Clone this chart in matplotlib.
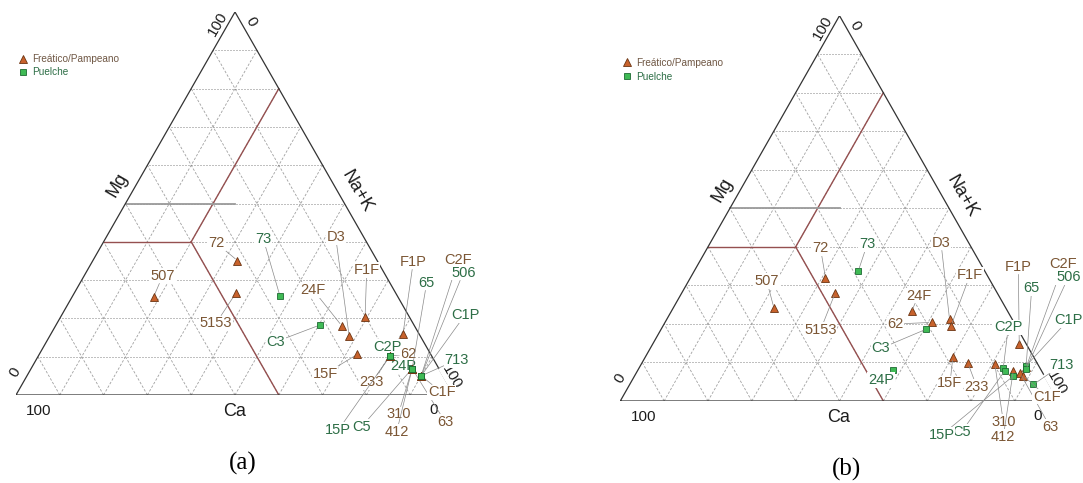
import numpy as np
import matplotlib
matplotlib.use("Agg")
import matplotlib.pyplot as plt

plt.rcParams['font.family'] = ['Liberation Sans', 'DejaVu Sans']

FIG_W, FIG_H, DPI = 1083, 483, 100

# ---------------- cation data (% of meq): Ca, Mg, Na+K ----------------
# panel (a)
a_names = ['72', '5153', '507', '24F', 'D3', 'F1F', '15F', 'F1P', '62', '233',
           '310', '412', '63', 'C1F', 'C2F',
           '73', 'C3', 'C2P', '24P', '65', '15P', 'C5', '713', 'C1P', '506']
a_group = ['F'] * 15 + ['P'] * 10
a_ca = [31.9, 36.5, 55.7, 16.6, 16.2, 10.1, 16.8, 3.7, 9.5, 9.5,
        6.1, 6.1, 6.1, 5.0, 5.0,
        26.8, 21.4, 9.5, 6.1, 6.1, 9.5, 6.1, 5.0, 5.0, 5.0]
a_mg = [35.1, 26.6, 25.7, 18.1, 15.5, 20.4, 10.6, 15.9, 10.2, 10.2,
        6.9, 6.9, 6.9, 5.0, 5.0,
        25.9, 18.3, 10.2, 6.9, 6.9, 10.2, 6.9, 5.0, 5.0, 5.0]
a_nak = [33.0, 36.9, 18.6, 65.3, 68.3, 69.5, 72.6, 80.4, 80.3, 80.3,
         87.0, 87.0, 87.0, 90.0, 90.0,
         47.3, 60.3, 80.3, 87.0, 87.0, 80.3, 87.0, 90.0, 90.0, 90.0]

# panel (b)
b_names = ['72', '5153', '507', '24F', '62', 'D3', 'F1F', '15F', '233', 'F1P',
           '310', '412', '63', 'C1F', 'C2F',
           '73', 'C3', '24P', 'C2P', 'C5', '65', 'C1P', '506', '15P', '713']
b_group = ['F'] * 15 + ['P'] * 10
b_ca = [37.2, 37.0, 52.9, 21.9, 18.8, 14.3, 14.8, 18.5, 15.8, 1.6,
        9.8, 6.4, 5.2, 4.8, 3.1,
        28.8, 21.0, 33.7, 8.4, 8.3, 3.1, 2.9, 3.4, 7.1, 3.6]
b_mg = [32.0, 28.0, 24.1, 23.3, 20.4, 21.2, 19.5, 11.3, 9.8, 14.8,
        9.5, 7.9, 7.2, 6.6, 8.7,
        33.8, 18.6, 8.0, 8.5, 7.9, 8.7, 9.1, 8.2, 6.5, 4.3]
b_nak = [30.8, 35.0, 23.0, 54.8, 60.8, 64.5, 65.7, 70.2, 74.4, 83.6,
         80.7, 85.7, 87.6, 88.6, 88.2,
         37.4, 60.4, 58.3, 83.1, 83.8, 88.2, 88.0, 88.4, 86.4, 92.1]

group_names = {'F': 'Freático/Pampeano', 'P': 'Puelche'}

# ---------------- layout (figure pixels, origin top-left) ----------------
a_label_px = {
    '72': (216.7, 243.3), '73': (263.3, 239.0), 'D3': (335.7, 237.3),
    '507': (162.7, 275.7), 'F1F': (366.7, 270.0), '24F': (313.3, 290.0),
    '5153': (216.0, 323.3), 'C3': (276.0, 341.7), '15F': (325.0, 374.0),
    '233': (371.7, 382.5), 'C2P': (387.0, 347.0), '62': (408.5, 354.0),
    '24P': (403.3, 366.5), 'F1P': (413.3, 261.7), 'C2F': (458.3, 260.0),
    '506': (463.3, 272.7), '65': (426.7, 282.7), 'C1P': (465.0, 315.0),
    '713': (456.7, 360.0), 'C1F': (441.7, 392.3), '63': (445.0, 421.7),
    '310': (398.3, 414.3), '412': (396.7, 431.7), 'C5': (361.7, 426.7),
    '15P': (338.3, 430.0),
}
b_label_px = {
    '72': (820.5, 248.3), '73': (867.2, 244.3), 'D3': (941.0, 242.7),
    '507': (766.8, 281.0), '24F': (918.5, 295.7), 'F1F': (970.0, 275.0),
    '5153': (820.5, 330.0), '62': (895.6, 324.0), 'C3': (881.0, 348.3),
    '24P': (881.0, 380.0), '15F': (950.0, 383.3), '233': (976.7, 386.7),
    'F1P': (1018.3, 266.7), 'C2F': (1063.3, 264.0), '506': (1068.3, 277.3),
    '65': (1031.7, 288.3), 'C1P': (1068.3, 320.0), 'C2P': (1008.3, 327.3),
    '713': (1061.7, 365.0), 'C1F': (1046.7, 396.7), '63': (1050.0, 426.7),
    '310': (1003.3, 421.7), '412': (1003.3, 436.7), 'C5': (961.7, 431.7),
    '15P': (941.7, 435.0),
}

STYLE = {
    'F': dict(marker='^', ms=5.2, mfc='#c8622c', mec='#6b3412', mew=0.6),
    'P': dict(marker='s', ms=5.0, mfc='#3fba55', mec='#1d6a32', mew=0.6),
}
LABEL_COLOR = {'F': '#7b5634', 'P': '#2d6e46'}
LEGEND_COLOR = {'F': '#6f5744', 'P': '#2d6e46'}
CLASS_COLOR = '#955050'
EDGE_COLOR = '#333333'


def project(ca, mg, nak):
    ca, mg, nak = (np.asarray(v, float) for v in (ca, mg, nak))
    tot = ca + mg + nak
    m, n = mg / tot, nak / tot
    return n + m / 2.0, m


def tern_line(ax, p0, p1, **kw):
    """Segment between two (Ca, Mg, NaK) compositions."""
    x, y = project([p0[0], p1[0]], [p0[1], p1[1]], [p0[2], p1[2]])
    ax.plot(x, y, **kw)


def draw_panel(box, names, group, ca, mg, nak, label_px, legend_px, tag,
               labels_on_top):
    l, r, t, b = box
    ax = fig.add_axes([l / FIG_W, (FIG_H - b) / FIG_H,
                       (r - l) / FIG_W, (b - t) / FIG_H])
    ax.set_xlim(0, 1)
    ax.set_ylim(0, 1)
    ax.set_axis_off()

    # grid every 10 %
    for i in range(1, 10):
        v = i * 10
        tern_line(ax, (100 - v, v, 0), (0, v, 100 - v), color='#6a6a6a',
                  lw=0.6, ls=(0, (0.6, 1.2)), zorder=1)
        tern_line(ax, (100 - v, 0, v), (0, 100 - v, v), color='#a0a0a0',
                  lw=0.6, ls=(0, (3, 2)), zorder=1)
        tern_line(ax, (v, 0, 100 - v), (v, 100 - v, 0), color='#a0a0a0',
                  lw=0.6, ls=(0, (3, 2)), zorder=1)

    # classification boundaries
    tern_line(ax, (60, 40, 0), (40, 40, 20), color=CLASS_COLOR, lw=1.0, zorder=2)
    tern_line(ax, (40, 40, 20), (40, 0, 60), color=CLASS_COLOR, lw=1.0, zorder=2)
    tern_line(ax, (40, 40, 20), (0, 80, 20), color=CLASS_COLOR, lw=1.0, zorder=2)
    tern_line(ax, (50, 50, 0), (25, 50, 25), color='#9a9a9a', lw=1.3, zorder=2)

    # outline
    ax.plot([0, 0.5, 1, 0], [0, 1, 0, 0], color=EDGE_COLOR, lw=0.9, zorder=2)

    pz, lz = (3, 4) if labels_on_top else (4, 3)

    x, y = project(ca, mg, nak)
    group = np.asarray(group)
    handles = []
    for g in ('F', 'P'):
        sel = group == g
        h, = ax.plot(x[sel], y[sel], ls='none', zorder=pz, **STYLE[g])
        handles.append(h)

    box_kw = dict(boxstyle='square,pad=0.05', fc='white', ec='none')
    for i, name in enumerate(names):
        px, py = label_px[name]
        ax.annotate(name, xy=(x[i], y[i]), xycoords='data',
                    xytext=(px, FIG_H - py), textcoords='figure pixels',
                    ha='center', va='center', fontsize=10.5,
                    color=LABEL_COLOR[group[i]], bbox=box_kw,
                    arrowprops=dict(arrowstyle='-', color='#8a8a8a', lw=0.5,
                                    shrinkA=0, shrinkB=2),
                    annotation_clip=False, zorder=lz)

    # axis names and end values, placed from the triangle corners
    corners = {'top': (0.5, 1.0), 'bl': (0.0, 0.0), 'br': (1.0, 0.0),
               'lm': (0.25, 0.5), 'rm': (0.75, 0.5), 'bm': (0.5, 0.0)}
    deco = [
        ('100', 'top', (-17.0, 12.4), 60, 11, None),
        ('0', 'top', (15.6, 9.5), -60, 11, None),
        ('Mg', 'lm', (-7.6, -18.4), 60, 13, None),
        ('Na+K', 'rm', (12.7, -11.7), -60, 13, None),
        ('0', 'bl', (-0.5, -22.5), 60, 11, None),
        ('100', 'br', (-2.3, -18.0), -60, 11, box_kw),
        ('100', 'bl', (23.0, 15.7), 0, 11, None),
        ('Ca', 'bm', (-0.8, 16.8), 0, 13, None),
        ('0', 'br', (-20.7, 14.5), 0, 11, None),
    ]
    for txt, c, (dx, dy), rot, fs, bb in deco:
        ax.annotate(txt, xy=corners[c], xycoords='data', xytext=(dx, -dy),
                    textcoords='offset pixels', ha='center', va='center',
                    rotation=rot, fontsize=fs, color='#1c1c1c', bbox=bb,
                    annotation_clip=False, zorder=2.5)
    ax.annotate(tag, xy=corners['bm'], xycoords='data', xytext=(7.3, -68.6),
                textcoords='offset pixels', ha='center', va='center',
                fontsize=18, family='Liberation Serif', color='black',
                annotation_clip=False)

    leg = ax.legend(handles, [group_names['F'], group_names['P']],
                    loc='upper left',
                    bbox_to_anchor=(legend_px[0] / FIG_W,
                                    1 - legend_px[1] / FIG_H),
                    bbox_transform=fig.transFigure, frameon=False,
                    fontsize=7.2, handlelength=0.9, handletextpad=0.5,
                    borderpad=0, borderaxespad=0, labelspacing=legend_px[2],
                    numpoints=1)
    for t_, g in zip(leg.get_texts(), ('F', 'P')):
        t_.set_color(LEGEND_COLOR[g])
    return ax


fig = plt.figure(figsize=(FIG_W / DPI, FIG_H / DPI), dpi=DPI)
fig.patch.set_facecolor('white')

draw_panel((16, 454, 12, 395), a_names, a_group, a_ca, a_mg, a_nak,
           a_label_px, (18.2, 54.5, 0.28), '(a)', labels_on_top=False)
draw_panel((620.3, 1058.7, 15.7, 401), b_names, b_group, b_ca, b_mg, b_nak,
           b_label_px, (622.2, 57.5, 0.42), '(b)', labels_on_top=True)

fig.savefig('out.png', dpi=DPI, facecolor='white')
